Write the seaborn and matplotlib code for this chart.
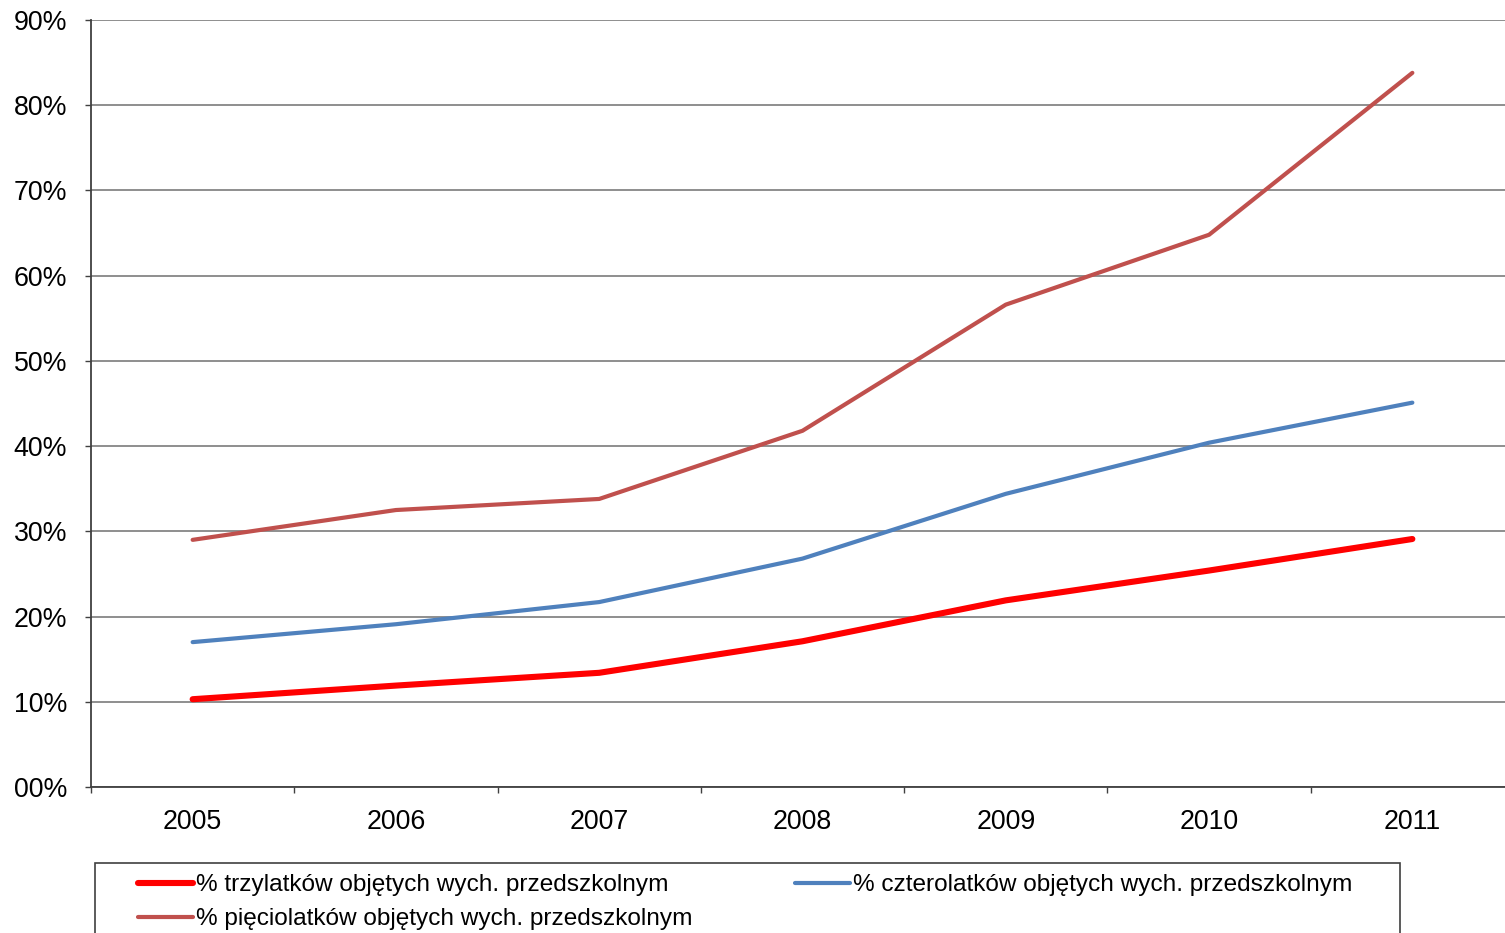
import numpy as np
import matplotlib.pyplot as plt
import matplotlib.ticker as ticker
from matplotlib.patches import Rectangle
import pandas as pd
import seaborn as sns

# data (percent)
years = [2005, 2006, 2007, 2008, 2009, 2010, 2011]
trzylatki = [10.3, 11.9, 13.4, 17.1, 21.9, 25.4, 29.1]
czterolatki = [17.0, 19.1, 21.7, 26.8, 34.4, 40.4, 45.1]
pieciolatki = [29.0, 32.5, 33.8, 41.8, 56.6, 64.8, 83.8]

labels = ["% trzylatków objętych wych. przedszkolnym",
          "% czterolatków objętych wych. przedszkolnym",
          "% pięciolatków objętych wych. przedszkolnym"]
colors = ["#ff0000", "#4f81bd", "#c0504d"]
widths = [4.4, 3.0, 3.0]

sns.set_style("white")
plt.rcParams['font.family'] = ['Liberation Sans', 'DejaVu Sans']
plt.rcParams['text.color'] = 'black'
plt.rcParams['xtick.color'] = 'black'
plt.rcParams['ytick.color'] = 'black'

W, H = 1505, 933
fig = plt.figure(figsize=(W / 100, H / 100), dpi=100)
# plot area runs a bit past the right edge, as in the original
ax = fig.add_axes([91 / W, 1 - 787 / H, (1514 - 91) / W, (787 - 20) / H])

series = [trzylatki, czterolatki, pieciolatki]
lines = []
for vals, lab, col, lw in zip(series, labels, colors, widths):
    df = pd.DataFrame({"rok": years, "proc": vals})
    sns.lineplot(data=df, x="rok", y="proc", ax=ax, color=col, linewidth=lw,
                 label=lab, legend=False, solid_capstyle="round", zorder=3)
    lines.append(ax.get_lines()[-1])

ax.set_xlim(2004.5, 2011.5)
ax.set_ylim(0, 90)
ax.set_xlabel("")
ax.set_ylabel("")

ax.yaxis.set_major_locator(ticker.MultipleLocator(10))
ax.yaxis.set_major_formatter(ticker.FuncFormatter(lambda v, p: "{:02.0f}%".format(v)))
ax.set_xticks(years)
ax.set_xticklabels([str(y) for y in years])
ax.set_xticks(np.arange(2004.5, 2012, 1), minor=True)
ax.tick_params(axis="x", which="major", bottom=True, length=0, pad=16, labelsize=19.3,
               labelcolor="black")
ax.tick_params(axis="x", which="minor", bottom=True, length=4.3, width=1, color="#404040", direction="out")
ax.tick_params(axis="y", left=True, length=4.3, width=1, color="#404040", direction="out", pad=13,
               labelsize=19.3, labelcolor="black")
ax.grid(axis="y", color="#868686", linewidth=1.3)
ax.set_axisbelow(True)

ax.spines["top"].set_visible(False)
ax.spines["right"].set_visible(False)
for s in ["left", "bottom"]:
    ax.spines[s].set_color("#404040")
    ax.spines[s].set_linewidth(1.3)

# legend box
fig.patches.append(Rectangle((95 / W, 1 - 960 / H), (1400 - 95) / W, (960 - 863) / H,
                             transform=fig.transFigure, fill=False,
                             edgecolor="#404040", linewidth=1.2))
leg = fig.legend([lines[0], lines[2], lines[1]], [labels[0], labels[2], labels[1]],
                 ncol=2, loc="upper left", bbox_to_anchor=(138 / W, 1 - 874 / H),
                 frameon=False, fontsize=17.6, handlelength=2.25, handletextpad=0.12,
                 columnspacing=4.2, labelspacing=0.5, borderpad=0, borderaxespad=0)
for t in leg.get_texts():
    t.set_color("black")

fig.savefig("out.png", dpi=100)
